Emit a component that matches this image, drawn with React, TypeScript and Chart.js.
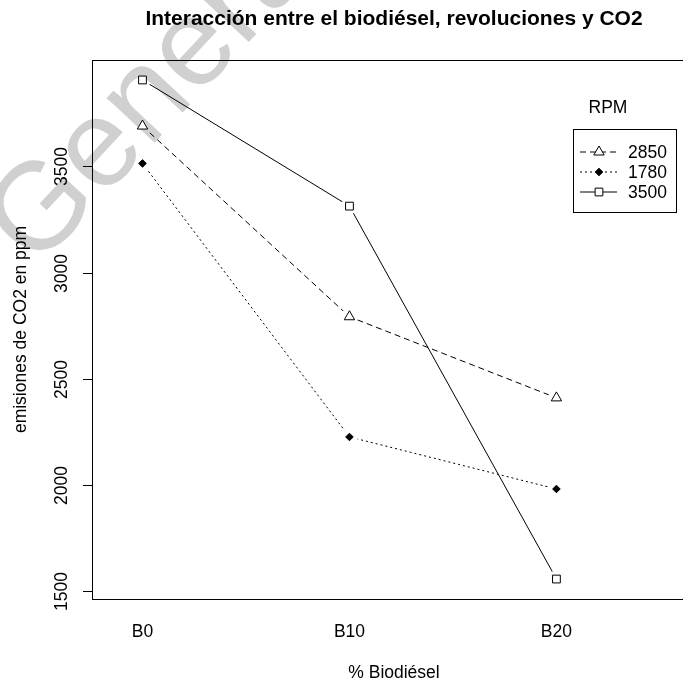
import React, { useEffect, useRef } from 'react';
import { Chart, registerables } from 'chart.js';

Chart.register(...registerables);

// ---------- data ----------
const categories = ['B0', 'B10', 'B20'];
const rpmLevels = ['2850', '1780', '3500'];
const co2Rpm2850 = [3690, 2792, 2410];
const co2Rpm1780 = [3514, 2226, 1981];
const co2Rpm3500 = [3907, 3313, 1557];
const yTicks = [1500, 2000, 2500, 3000, 3500];

const chartTitle = 'Interacción entre el biodiésel, revoluciones y CO2';
const xAxisTitle = '% Biodiésel';
const yAxisTitle = 'emisiones de CO2 en ppm';
const legendTitle = 'RPM';
const watermarkText = 'Generated';

// ---------- styles ----------
const FONT = '"Liberation Sans", Arial, sans-serif';
const BASE = 17.5;
const seriesValues = [co2Rpm2850, co2Rpm1780, co2Rpm3500];
const seriesStyles = [
  { dash: [6, 4], marker: 'triangle', radius: 6, fill: '#ffffff' },
  { dash: [2, 3], marker: 'rectRot', radius: 3.8, fill: '#000000' },
  { dash: [] as number[], marker: 'rect', radius: 5.5, fill: '#ffffff' },
];

const CANVAS_W = 720;
const CANVAS_H = 685;
const AREA = { left: 92, top: 60, right: 710, bottom: 599 };

function toPoints(vals: number[]) {
  return vals.map((v, i) => ({ x: i + 1, y: v }));
}

function drawSymbol(ctx: CanvasRenderingContext2D, kind: string, x: number, y: number, r: number, fill: string) {
  ctx.save();
  ctx.beginPath();
  if (kind === 'triangle') {
    const h = r * 1.5;
    const w = r * Math.sqrt(3);
    ctx.moveTo(x, y - r);
    ctx.lineTo(x + w / 2, y - r + h);
    ctx.lineTo(x - w / 2, y - r + h);
    ctx.closePath();
  } else if (kind === 'rectRot') {
    ctx.moveTo(x - r, y);
    ctx.lineTo(x, y - r);
    ctx.lineTo(x + r, y);
    ctx.lineTo(x, y + r);
    ctx.closePath();
  } else {
    const s = r * Math.SQRT1_2;
    ctx.rect(x - s, y - s, 2 * s, 2 * s);
  }
  ctx.fillStyle = fill;
  ctx.fill();
  ctx.lineWidth = 1;
  ctx.strokeStyle = '#000';
  ctx.setLineDash([]);
  ctx.stroke();
  ctx.restore();
}

const decorPlugin = {
  id: 'rDecor',
  beforeDraw(chart: any) {
    const ctx = chart.ctx as CanvasRenderingContext2D;
    ctx.save();
    ctx.fillStyle = '#ffffff';
    ctx.fillRect(0, 0, chart.width, chart.height);
    // watermark
    ctx.translate(36, 270);
    ctx.rotate((-47 * Math.PI) / 180);
    ctx.font = `124px ${FONT}`;
    ctx.fillStyle = '#d0d0d0';
    ctx.textAlign = 'left';
    ctx.textBaseline = 'alphabetic';
    ctx.fillText(watermarkText, 0, 0);
    ctx.restore();
  },
  beforeDatasetDraw(chart: any, args: any) {
    const ds = chart.data.datasets[args.index];
    if (!ds._isLine) return;
    const ctx = chart.ctx as CanvasRenderingContext2D;
    const markerMeta = chart.getDatasetMeta(ds._markerIndex);
    ctx.save();
    ctx.beginPath();
    ctx.rect(0, 0, chart.width, chart.height);
    markerMeta.data.forEach((pt: any) => {
      ctx.moveTo(pt.x + 8.5, pt.y);
      ctx.arc(pt.x, pt.y, 8.5, 0, Math.PI * 2);
    });
    ctx.clip('evenodd');
  },
  afterDatasetDraw(chart: any, args: any) {
    const ds = chart.data.datasets[args.index];
    if (!ds._isLine) return;
    chart.ctx.restore();
  },
  afterDraw(chart: any) {
    const ctx = chart.ctx as CanvasRenderingContext2D;
    const { left, top, right, bottom } = chart.chartArea;
    const xs = chart.scales.x;
    const ys = chart.scales.y;
    ctx.save();
    // box
    ctx.strokeStyle = '#000';
    ctx.lineWidth = 1;
    ctx.setLineDash([]);
    ctx.strokeRect(left + 0.5, top + 0.5, right - left, bottom - top);

    ctx.fillStyle = '#000';
    // title
    ctx.font = `bold ${BASE * 1.2}px ${FONT}`;
    ctx.textAlign = 'center';
    ctx.textBaseline = 'middle';
    ctx.fillText(chartTitle, 394, 19);

    // x tick labels
    ctx.font = `${BASE}px ${FONT}`;
    categories.forEach((c, i) => {
      ctx.fillText(c, xs.getPixelForValue(i + 1), 632);
    });
    // x axis title
    ctx.fillText(xAxisTitle, 394, 673);

    // y ticks + labels
    yTicks.forEach((t) => {
      const py = Math.round(ys.getPixelForValue(t)) + 0.5;
      ctx.beginPath();
      ctx.moveTo(left - 9, py);
      ctx.lineTo(left, py);
      ctx.stroke();
      ctx.save();
      ctx.translate(62, py);
      ctx.rotate(-Math.PI / 2);
      ctx.fillText(String(t), 0, 0);
      ctx.restore();
    });
    // y axis title
    ctx.save();
    ctx.translate(21, (top + bottom) / 2);
    ctx.rotate(-Math.PI / 2);
    ctx.fillText(yAxisTitle, 0, 0);
    ctx.restore();

    // legend
    ctx.fillText(legendTitle, 608, 108);
    ctx.strokeRect(573.5, 129.5, 103, 83);
    rpmLevels.forEach((lab, i) => {
      const ly = 152 + i * 20;
      const st = seriesStyles[i];
      ctx.beginPath();
      ctx.setLineDash(st.dash);
      ctx.moveTo(580, ly);
      ctx.lineTo(617, ly);
      ctx.stroke();
      ctx.setLineDash([]);
      drawSymbol(ctx, st.marker, 599, ly, st.radius, st.fill);
      ctx.textAlign = 'left';
      ctx.fillStyle = '#000';
      ctx.fillText(lab, 628, ly + 1);
    });
    ctx.restore();
  },
};

export default function App() {
  const canvasRef = useRef<HTMLCanvasElement | null>(null);

  useEffect(() => {
    if (!canvasRef.current) return;
    const datasets: any[] = [];
    seriesValues.forEach((vals, i) => {
      const st = seriesStyles[i];
      datasets.push({
        label: rpmLevels[i],
        data: toPoints(vals),
        showLine: true,
        borderColor: '#000',
        borderWidth: 1,
        borderDash: st.dash,
        pointRadius: 0,
        pointHoverRadius: 0,
        fill: false,
        tension: 0,
        _isLine: true,
        _markerIndex: seriesValues.length + i,
      });
    });
    seriesValues.forEach((vals, i) => {
      const st = seriesStyles[i];
      datasets.push({
        label: rpmLevels[i] + ' marker',
        data: toPoints(vals),
        showLine: false,
        pointStyle: st.marker,
        pointRadius: st.radius,
        pointHoverRadius: st.radius,
        pointBackgroundColor: st.fill,
        pointBorderColor: '#000',
        pointBorderWidth: 1,
      });
    });

    const chart = new Chart(canvasRef.current, {
      type: 'scatter',
      data: { datasets },
      options: {
        animation: false,
        responsive: false,
        devicePixelRatio: window.devicePixelRatio || 1,
        layout: {
          padding: {
            left: AREA.left,
            top: AREA.top,
            right: CANVAS_W - AREA.right,
            bottom: CANVAS_H - AREA.bottom,
          },
        },
        scales: {
          x: { type: 'linear', min: 0.756, max: 3.742, display: false },
          y: { type: 'linear', min: 1463, max: 4001, display: false },
        },
        plugins: {
          legend: { display: false },
          tooltip: { enabled: false },
          title: { display: false },
        },
        events: [],
      } as any,
      plugins: [decorPlugin],
    });
    return () => chart.destroy();
  }, []);

  return (
    <div
      style={{
        position: 'fixed',
        left: 0,
        top: 0,
        width: 683,
        height: 685,
        overflow: 'hidden',
        background: '#fff',
      }}
    >
      <canvas
        ref={canvasRef}
        width={CANVAS_W}
        height={CANVAS_H}
        style={{ width: CANVAS_W, height: CANVAS_H, display: 'block' }}
      />
    </div>
  );
}
